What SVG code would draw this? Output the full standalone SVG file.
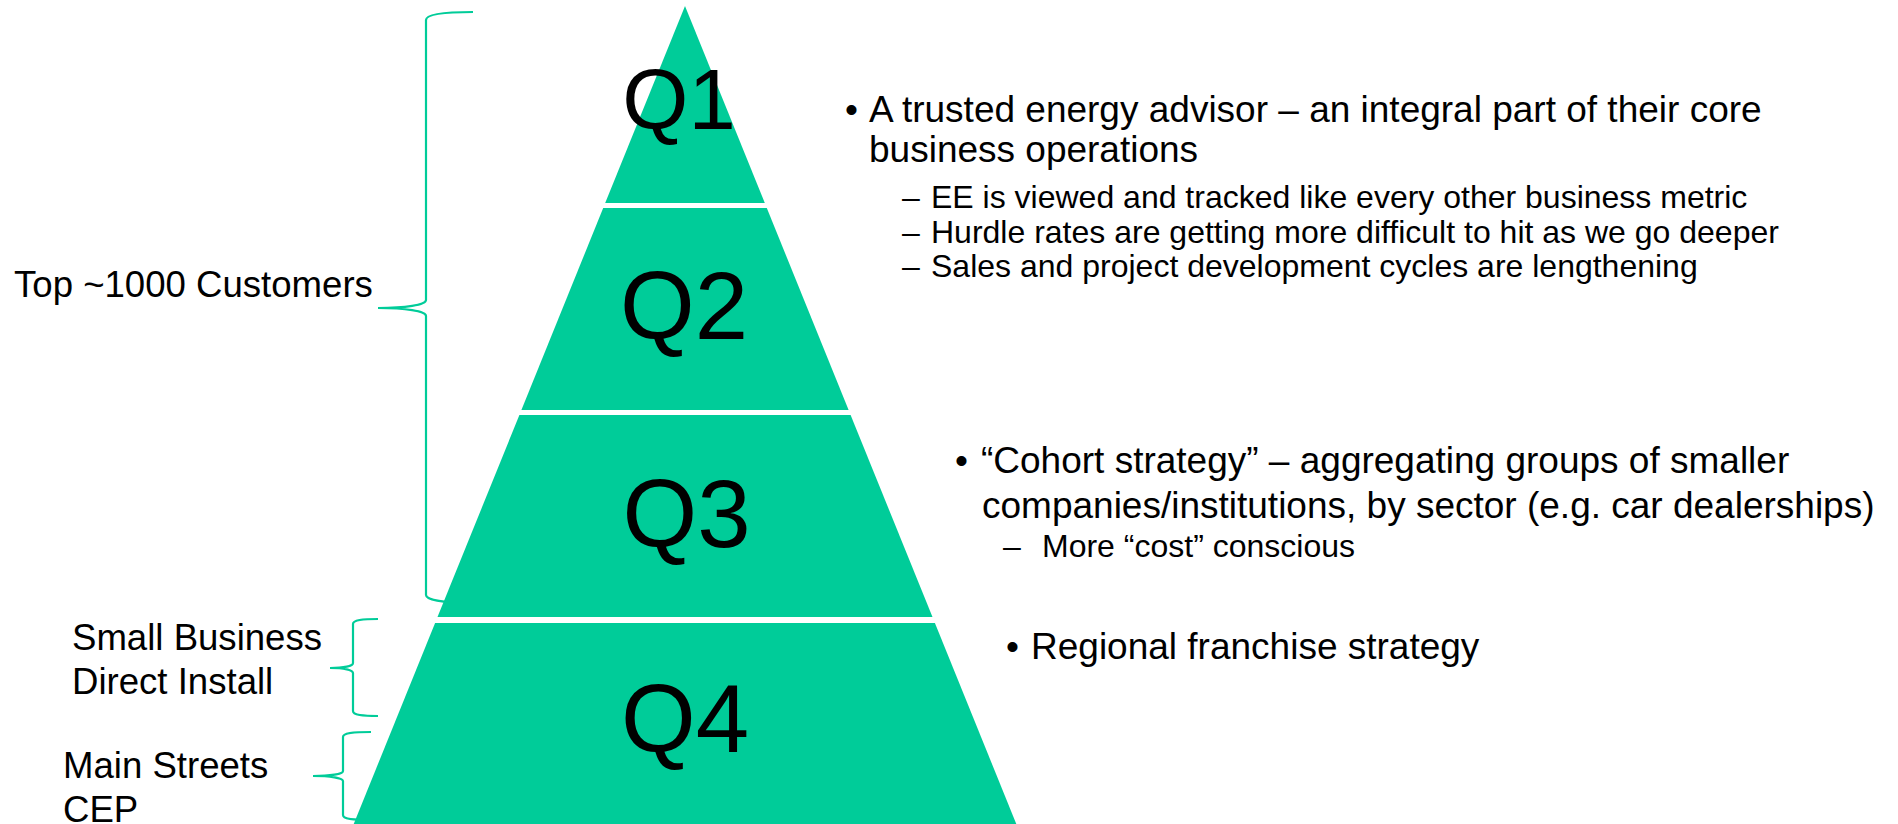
<svg xmlns="http://www.w3.org/2000/svg" width="1898" height="824" viewBox="0 0 1898 824">
<style>
  .seg { fill: #00CC99; }
  .brace { fill: none; stroke: #00CC99; stroke-width: 2.2; }
  text { font-family: "Liberation Sans", Arial, sans-serif; fill: #000; }
  .q1 { font-size: 85px; text-anchor: middle; }
  .q { font-size: 96px; text-anchor: middle; }
  .lbl { font-size: 36.6px; }
  .l1 { font-size: 37px; }
  .l2 { font-size: 32px; }
</style>
<rect width="1898" height="824" fill="#ffffff"/>
<g id="connectors">
  <path class="brace" d="M473,12 C445,12 426,14 426,20 L426,300 C426,305 405,308 378,308 C405,308 426,311 426,316 L426,595 C426,600 445,603 473,603"/>
  <path class="brace" d="M378,619 C362,619 353,620 353,624 L353,663 C353,666 344,668 330,668 C344,668 353,670 353,673 L353,711 C353,715 362,716 378,716"/>
  <path class="brace" d="M371,732 C352,732 343,733 343,737 L343,771 C343,774 330,776 313,776 C330,776 343,778 343,781 L343,815 C343,819 352,820 371,820"/>
</g>
<g id="label-top">
  <text class="lbl" x="14" y="297">Top ~1000 Customers</text>
</g>
<g id="label-small">
  <text class="lbl" x="72" y="650">Small Business</text>
  <text class="lbl" x="72" y="694">Direct Install</text>
</g>
<g id="label-main">
  <text class="lbl" x="63" y="778">Main Streets</text>
  <text class="lbl" x="63" y="822">CEP</text>
</g>
<g id="Q1">
  <polygon class="seg" points="685,6 764.8,203 605.2,203"/>
  <text class="q1" x="679" y="129">Q1</text>
</g>
<g id="Q2">
  <polygon class="seg" points="603.2,208 766.8,208 848.6,410 521.4,410"/>
  <text class="q" x="684" y="339">Q2</text>
</g>
<g id="Q3">
  <polygon class="seg" points="519.4,415 850.6,415 932.5,617 437.5,617"/>
  <text class="q" x="686.5" y="547">Q3</text>
</g>
<g id="Q4">
  <polygon class="seg" points="435.1,623 934.9,623 1016.3,824 353.7,824"/>
  <text class="q" x="685" y="752">Q4</text>
</g>
<g id="text-q1">
  <text class="l1" x="845" y="122">•</text>
  <text class="l1" x="869" y="122">A trusted energy advisor – an integral part of their core</text>
  <text class="l1" x="869" y="162">business operations</text>
  <text class="l2" x="902" y="208">–</text>
  <text class="l2" x="931" y="208">EE is viewed and tracked like every other business metric</text>
  <text class="l2" x="902" y="243">–</text>
  <text class="l2" x="931" y="243">Hurdle rates are getting more difficult to hit as we go deeper</text>
  <text class="l2" x="902" y="277">–</text>
  <text class="l2" x="931" y="277">Sales and project development cycles are lengthening</text>
</g>
<g id="text-q3">
  <text class="l1" x="955" y="473">•</text>
  <text class="l1" x="981" y="473">“Cohort strategy” – aggregating groups of smaller</text>
  <text class="l1" x="982" y="518">companies/institutions, by sector (e.g. car dealerships)</text>
  <text class="l2" x="1003" y="557">–</text>
  <text class="l2" x="1042" y="557">More “cost” conscious</text>
</g>
<g id="text-q4">
  <text class="l1" x="1006" y="659">•</text>
  <text class="l1" x="1031" y="659">Regional franchise strategy</text>
</g>
</svg>
